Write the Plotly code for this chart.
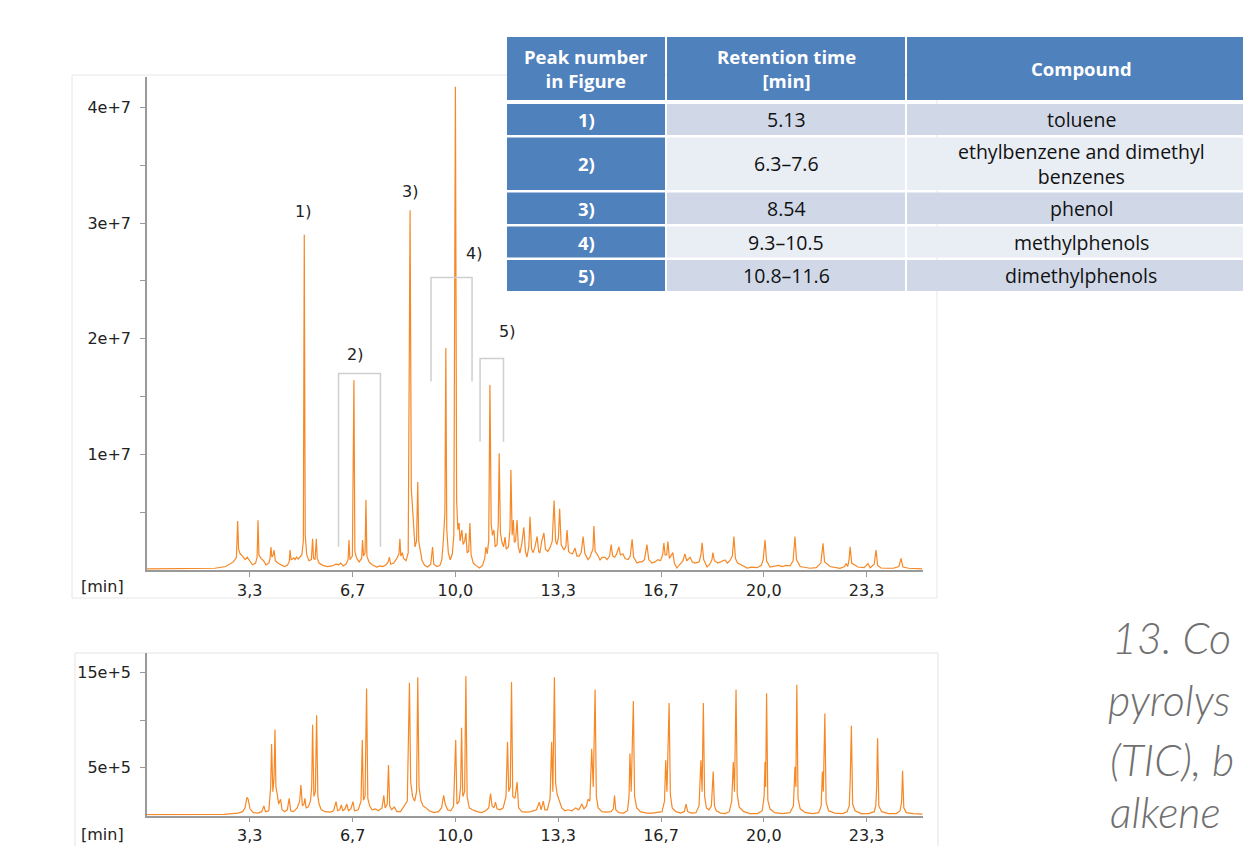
import plotly.graph_objects as go

# ---------------- DATA ----------------
# Upper chromatogram (TIC): retention time [min] and intensity [millions of counts]
tic_time = [0.00, 1.50, 2.20, 2.55, 2.80, 2.90, 2.94, 2.97, 3.02, 3.10, 3.18, 3.25, 3.32, 3.42, 3.52,
            3.57, 3.60, 3.63, 3.70, 3.78, 3.86, 3.95, 3.99, 4.02, 4.05, 4.09, 4.12, 4.16, 4.24, 4.35,
            4.45, 4.55, 4.61, 4.64, 4.67, 4.72, 4.76, 4.80, 4.85, 4.90, 4.96, 5.02, 5.07, 5.10, 5.13,
            5.18, 5.25, 5.33, 5.37, 5.40, 5.45, 5.49, 5.52, 5.58, 5.70, 5.85, 6.00, 6.13, 6.22, 6.28,
            6.36, 6.45, 6.52, 6.55, 6.58, 6.66, 6.71, 6.74, 6.80, 6.88, 6.96, 6.99, 7.02, 7.07, 7.10,
            7.13, 7.20, 7.30, 7.45, 7.55, 7.65, 7.75, 7.82, 7.86, 7.90, 8.00, 8.10, 8.17, 8.20, 8.23,
            8.28, 8.32, 8.40, 8.47, 8.53, 8.57, 8.60, 8.64, 8.69, 8.74, 8.78, 8.81, 8.86, 8.92, 9.00,
            9.10, 9.20, 9.26, 9.30, 9.40, 9.50, 9.56, 9.61, 9.66, 9.69, 9.72, 9.77, 9.83, 9.90, 9.95,
            10.00, 10.04, 10.08, 10.12, 10.15, 10.21, 10.25, 10.30, 10.34, 10.38, 10.43, 10.47, 10.51,
            10.58, 10.66, 10.78, 10.88, 10.95, 10.99, 11.03, 11.08, 11.12, 11.16, 11.20, 11.25, 11.29,
            11.35, 11.39, 11.42, 11.46, 11.51, 11.56, 11.61, 11.65, 11.72, 11.77, 11.80, 11.84, 11.88,
            11.91, 11.95, 12.00, 12.04, 12.09, 12.15, 12.22, 12.27, 12.32, 12.38, 12.42, 12.47, 12.52,
            12.58, 12.65, 12.70, 12.74, 12.80, 12.87, 12.92, 13.00, 13.08, 13.14, 13.20, 13.25, 13.29,
            13.34, 13.38, 13.43, 13.52, 13.58, 13.62, 13.67, 13.72, 13.80, 13.88, 13.94, 14.01, 14.08,
            14.14, 14.20, 14.30, 14.36, 14.40, 14.46, 14.49, 14.53, 14.59, 14.65, 14.69, 14.76, 14.85,
            14.92, 15.00, 15.05, 15.10, 15.17, 15.23, 15.30, 15.35, 15.43, 15.50, 15.60, 15.67, 15.73,
            15.78, 15.89, 15.97, 16.05, 16.13, 16.21, 16.27, 16.37, 16.47, 16.57, 16.65, 16.72, 16.76,
            16.80, 16.85, 16.89, 16.94, 17.05, 17.10, 17.18, 17.30, 17.38, 17.44, 17.50, 17.61, 17.68,
            17.77, 17.90, 17.96, 18.00, 18.05, 18.16, 18.25, 18.32, 18.35, 18.40, 18.51, 18.62, 18.74,
            18.82, 18.90, 18.98, 19.03, 19.08, 19.15, 19.23, 19.35, 19.46, 19.60, 19.78, 19.92, 19.98,
            20.04, 20.09, 20.20, 20.35, 20.47, 20.60, 20.72, 20.85, 20.95, 21.01, 21.06, 21.18, 21.35,
            21.50, 21.70, 21.85, 21.92, 21.97, 22.15, 22.30, 22.47, 22.62, 22.67, 22.72, 22.76, 22.80,
            22.85, 23.05, 23.25, 23.38, 23.45, 23.58, 23.64, 23.69, 23.80, 24.00, 24.20, 24.38, 24.45,
            24.51, 24.70, 25.13]
tic_mcounts = [0.10, 0.10, 0.15, 0.30, 0.70, 1.10, 4.24, 1.80, 1.40, 1.20, 0.90, 1.10, 0.80, 0.45, 0.60,
               1.10, 4.30, 1.30, 1.00, 0.80, 0.45, 0.60, 1.00, 1.99, 1.10, 1.30, 1.73, 0.80, 0.60, 0.45,
               0.30, 0.40, 0.70, 1.73, 0.90, 0.95, 1.05, 0.90, 1.12, 0.95, 1.10, 1.30, 2.50, 29.0, 3.00,
               1.30, 0.80, 0.90, 2.70, 1.00, 0.90, 2.70, 1.00, 0.60, 0.40, 0.30, 0.35, 0.50, 0.45, 0.60,
               0.35, 0.50, 0.90, 2.60, 0.90, 1.20, 16.4, 1.60, 1.00, 0.70, 1.00, 2.60, 1.20, 1.50, 6.06,
               1.20, 0.70, 0.45, 0.25, 0.35, 0.30, 0.45, 0.70, 1.12, 0.50, 0.60, 1.00, 1.40, 2.70, 1.20,
               1.50, 1.00, 0.80, 1.50, 31.1, 7.00, 5.80, 3.50, 2.00, 2.50, 7.60, 2.50, 1.60, 0.80, 0.40,
               0.26, 0.50, 1.99, 0.50, 0.30, 0.40, 0.90, 2.60, 5.00, 19.2, 3.50, 1.50, 0.87, 1.40, 3.00,
               41.8, 6.00, 3.50, 4.07, 2.50, 3.46, 2.20, 2.50, 3.20, 1.50, 1.60, 4.07, 1.30,
               0.60, 0.40, 0.17, 0.40, 1.00, 1.99, 1.40, 2.50, 16.0, 4.00, 3.00, 3.46, 2.00,
               2.20, 4.00, 10.1, 3.20, 2.40, 2.00, 2.85, 1.80, 2.00, 3.50, 8.65, 3.00, 4.33,
               2.40, 2.50, 4.33, 2.00, 1.47, 2.20, 3.70, 1.60, 1.12, 2.00, 4.60, 1.80, 1.50,
               2.00, 2.90, 1.60, 1.47, 2.50, 3.20, 1.80, 1.60, 2.00, 2.50, 6.00, 2.50, 2.20,
               2.80, 5.30, 2.20, 1.73, 2.00, 3.46, 1.60, 1.47, 1.40, 1.90, 1.20, 1.20, 1.50,
               2.90, 1.40, 0.90, 1.10, 1.40, 1.80, 3.80, 1.60, 1.40, 1.00, 0.87, 1.10, 1.10,
               0.90, 1.20, 2.20, 1.20, 1.10, 1.40, 2.00, 1.30, 1.40, 1.00, 0.90, 1.20, 2.65,
               1.10, 0.60, 0.70, 0.70, 0.90, 2.20, 0.90, 0.60, 0.70, 0.90, 0.80, 1.30, 2.34,
               1.30, 1.30, 2.45, 1.00, 1.50, 0.60, 0.17, 0.50, 0.80, 1.40, 0.80, 1.10, 0.70,
               0.60, 0.70, 1.30, 2.36, 0.90, 0.26, 0.50, 0.90, 1.50, 0.80, 0.60, 0.70, 0.87,
               0.60, 0.80, 1.20, 2.90, 1.00, 0.60, 0.50, 0.30, 0.17, 0.25, 0.20, 0.40, 0.90,
               2.60, 0.80, 0.26, 0.35, 0.40, 0.30, 0.40, 0.35, 0.80, 2.90, 0.90, 0.30, 0.20,
               0.15, 0.20, 0.60, 2.30, 0.70, 0.30, 0.20, 0.15, 0.30, 0.55, 0.30, 0.80, 2.00,
               0.60, 0.26, 0.20, 0.55, 0.20, 0.50, 1.73, 0.40, 0.17, 0.15, 0.15, 0.30, 1.00,
               0.25, 0.15, 0.10]

# Lower chromatogram: retention time [min] and intensity [units of 1e5 counts]
ion_time = [0.00, 1.50, 2.50, 2.95, 3.10, 3.18, 3.24, 3.28, 3.34, 3.45, 3.60, 3.72, 3.79, 3.84, 3.95,
            4.01, 4.04, 4.08, 4.12, 4.15, 4.18, 4.22, 4.27, 4.33, 4.38, 4.46, 4.55, 4.61, 4.66, 4.75,
            4.87, 4.95, 4.99, 5.04, 5.09, 5.12, 5.16, 5.23, 5.30, 5.34, 5.37, 5.41, 5.46, 5.50, 5.54,
            5.58, 5.65, 5.78, 5.95, 6.05, 6.13, 6.18, 6.25, 6.30, 6.35, 6.42, 6.48, 6.53, 6.61, 6.68,
            6.73, 6.85, 6.94, 6.98, 7.02, 7.07, 7.12, 7.16, 7.22, 7.30, 7.40, 7.50, 7.62, 7.68, 7.72,
            7.79, 7.83, 7.87, 7.93, 8.02, 8.10, 8.22, 8.35, 8.44, 8.51, 8.55, 8.61, 8.68, 8.74, 8.78,
            8.82, 8.88, 8.95, 9.05, 9.15, 9.30, 9.45, 9.55, 9.62, 9.67, 9.75, 9.85, 9.94, 10.01, 10.05,
            10.12, 10.17, 10.20, 10.24, 10.30, 10.34, 10.38, 10.45, 10.55, 10.70, 10.85, 10.98, 11.08,
            11.14, 11.19, 11.25, 11.30, 11.35, 11.45, 11.55, 11.64, 11.69, 11.73, 11.78, 11.82, 11.86,
            11.93, 12.00, 12.05, 12.15, 12.30, 12.45, 12.55, 12.63, 12.72, 12.78, 12.85, 12.90, 12.98,
            13.07, 13.12, 13.16, 13.21, 13.25, 13.30, 13.36, 13.45, 13.55, 13.65, 13.78, 13.90, 14.00,
            14.10, 14.17, 14.25, 14.30, 14.36, 14.42, 14.47, 14.53, 14.57, 14.63, 14.75, 14.90, 15.05,
            15.12, 15.16, 15.20, 15.30, 15.45, 15.58, 15.63, 15.66, 15.70, 15.77, 15.81, 15.88, 16.00,
            16.20, 16.40, 16.55, 16.70, 16.78, 16.82, 16.86, 16.93, 16.97, 17.03, 17.15, 17.30, 17.42,
            17.48, 17.53, 17.65, 17.80, 17.90, 17.96, 18.00, 18.04, 18.08, 18.14, 18.22, 18.30, 18.36,
            18.40, 18.46, 18.60, 18.75, 18.88, 18.96, 19.01, 19.05, 19.10, 19.14, 19.20, 19.35, 19.55,
            19.80, 19.95, 20.01, 20.04, 20.06, 20.09, 20.13, 20.20, 20.35, 20.60, 20.85, 20.96, 21.01,
            21.04, 21.07, 21.11, 21.18, 21.35, 21.60, 21.78, 21.86, 21.90, 21.93, 21.98, 22.02, 22.10,
            22.30, 22.55, 22.70, 22.77, 22.80, 22.84, 22.88, 22.96, 23.15, 23.40, 23.58, 23.63, 23.66,
            23.69, 23.73, 23.82, 24.05, 24.30, 24.42, 24.47, 24.50, 24.54, 24.62, 24.85, 25.15]
ion_counts_1e5 = [0.10, 0.10, 0.12, 0.25, 0.40, 0.80, 1.90, 1.70, 0.70, 0.30, 0.25, 0.40, 1.00, 0.40, 0.50,
                  3.00, 7.50, 2.50, 4.00, 9.00, 3.00, 2.30, 1.20, 1.70, 0.60, 0.40, 0.60, 1.80, 0.50, 0.40,
                  0.80, 1.50, 3.20, 1.00, 1.20, 1.80, 0.80, 0.90, 1.50, 3.00, 9.50, 2.00, 2.50, 10.5, 2.00,
                  1.20, 0.60, 0.40, 0.35, 0.50, 1.45, 0.50, 0.60, 1.10, 0.50, 0.70, 1.20, 0.50, 0.70, 1.45,
                  0.50, 0.60, 1.50, 7.90, 1.60, 2.00, 13.3, 1.80, 1.00, 0.60, 0.70, 0.50, 0.80, 2.10, 0.80,
                  1.20, 5.30, 1.00, 0.60, 0.90, 0.40, 0.40, 1.00, 1.50, 13.9, 3.50, 2.00, 1.50, 2.50, 14.5,
                  3.00, 1.60, 1.00, 0.80, 0.50, 0.30, 0.40, 0.80, 2.10, 1.20, 0.60, 0.50, 1.00, 7.90, 1.20,
                  1.50, 3.00, 9.20, 2.00, 2.50, 14.6, 2.00, 0.80, 0.60, 0.40, 0.30, 0.50, 0.80,
                  2.30, 1.00, 0.80, 1.40, 0.70, 0.60, 0.80, 2.00, 7.70, 2.50, 3.00, 14.0, 2.00,
                  1.80, 3.50, 0.80, 0.40, 0.35, 0.40, 0.50, 0.60, 1.40, 0.60, 1.50, 0.60, 0.60,
                  1.80, 7.70, 2.50, 14.5, 3.40, 2.20, 1.70, 0.80, 0.50, 0.60, 0.50, 0.80, 0.60,
                  1.20, 0.70, 1.00, 1.70, 1.50, 7.00, 3.00, 13.2, 2.00, 0.80, 0.40, 0.35, 0.40,
                  0.70, 2.10, 0.60, 0.30, 0.25, 0.50, 2.00, 6.50, 2.50, 12.0, 2.00, 0.80, 0.40,
                  0.25, 0.25, 0.30, 0.40, 1.50, 5.80, 2.50, 11.8, 2.20, 0.80, 0.40, 0.25, 0.40,
                  1.20, 0.40, 0.25, 0.30, 1.00, 5.80, 2.50, 11.8, 2.00, 0.80, 0.60, 1.00, 4.60,
                  1.00, 0.50, 0.25, 0.20, 0.40, 1.50, 5.60, 2.50, 13.2, 2.20, 0.90, 0.40, 0.20,
                  0.20, 0.50, 2.00, 5.60, 3.00, 12.8, 1.60, 0.70, 0.30, 0.20, 0.30, 1.00, 5.10,
                  3.00, 13.7, 1.80, 0.70, 0.30, 0.20, 0.30, 1.00, 4.60, 2.50, 10.7, 1.40, 0.50,
                  0.25, 0.20, 0.40, 1.00, 3.40, 9.40, 1.20, 0.50, 0.20, 0.20, 0.40, 1.00, 3.00,
                  8.10, 1.00, 0.40, 0.20, 0.20, 0.50, 1.50, 4.70, 0.80, 0.30, 0.20, 0.15]

x_tick_vals = [10 / 3, 20 / 3, 10, 40 / 3, 50 / 3, 20, 70 / 3]
x_tick_text = ["3,3", "6,7", "10,0", "13,3", "16,7", "20,0", "23,3"]
tic_tick_vals = [1e7, 2e7, 3e7, 4e7]
tic_tick_text = ["1e+7", "2e+7", "3e+7", "4e+7"]
ion_tick_vals = [5e5, 1.5e6]
ion_tick_text = ["5e+5", "15e+5"]

# Table
table_header = ["Peak number<br>in Figure", "Retention time<br>[min]", "Compound"]
peak_numbers = ["1)", "2)", "3)", "4)", "5)"]
retention_times = ["5.13", "6.3–7.6", "8.54", "9.3–10.5", "10.8–11.6"]
compounds = ["toluene", "ethylbenzene and dimethyl<br>benzenes", "phenol", "methylphenols", "dimethylphenols"]

# Peak-group brackets (start / end retention time, top / bottom intensity)
bracket_start = [6.21, 9.21, 10.80]
bracket_end = [7.57, 10.54, 11.56]
bracket_top = [17.0e6, 25.3e6, 18.3e6]
bracket_bottom = [2.0e6, 16.3e6, 11.1e6]

caption_lines = ["13. Co", "pyrolys", "(TIC), b", "alkene"]

# ---------------- LAYOUT HELPERS ----------------
W, H = 1243, 846


def px(x):
    return x / W


def py(y):
    return 1 - y / H


X0 = 147            # pixel of t = 0
PX_PER_MIN = 30.84
T_MAX = 25.15
x_dom = [px(X0), px(X0 + T_MAX * PX_PER_MIN)]

LINE_COLOR = "rgb(246,136,38)"
AXIS_COLOR = "#9a9a9a"
TICK_FONT = dict(family="DejaVu Sans", size=16, color="#222222")

fig = go.Figure()
fig.add_trace(go.Scatter(x=tic_time, y=[v * 1e6 for v in tic_mcounts], mode="lines",
                         line=dict(color=LINE_COLOR, width=1.2), xaxis="x", yaxis="y",
                         hoverinfo="skip", showlegend=False))
fig.add_trace(go.Scatter(x=ion_time, y=[v * 1e5 for v in ion_counts_1e5], mode="lines",
                         line=dict(color=LINE_COLOR, width=1.2), xaxis="x2", yaxis="y2",
                         hoverinfo="skip", showlegend=False))

common = dict(showline=True, linecolor=AXIS_COLOR, linewidth=1.5, ticks="outside", ticklen=5,
              tickwidth=1, tickcolor=AXIS_COLOR, showgrid=False, zeroline=False,
              tickfont=TICK_FONT, fixedrange=True)

fig.update_layout(
    width=W, height=H, autosize=False,
    margin=dict(l=0, r=0, t=0, b=0),
    paper_bgcolor="white", plot_bgcolor="white",
    showlegend=False,
    xaxis=dict(domain=x_dom, range=[0, T_MAX], anchor="y", tickmode="array",
               tickvals=x_tick_vals, ticktext=x_tick_text, **common),
    yaxis=dict(domain=[py(570), py(76.7)], range=[0, 4.266e7], anchor="x", tickmode="array",
               tickvals=tic_tick_vals, ticktext=tic_tick_text, ticklabelstandoff=6,
               minor=dict(tickvals=[5e6, 1.5e7, 2.5e7, 3.5e7], ticks="outside", ticklen=5,
                          tickcolor=AXIS_COLOR), **common),
    xaxis2=dict(domain=x_dom, range=[0, T_MAX], anchor="y2", tickmode="array",
                tickvals=x_tick_vals, ticktext=x_tick_text, **common),
    yaxis2=dict(domain=[py(815.5), py(653.3)], range=[0, 1.70e6], anchor="x2", tickmode="array",
                tickvals=ion_tick_vals, ticktext=ion_tick_text, ticklabelstandoff=6,
                minor=dict(tickvals=[1e6], ticks="outside", ticklen=5, tickcolor=AXIS_COLOR), **common),
)

shapes = []
annotations = []

# chart frames
shapes.append(dict(type="rect", xref="paper", yref="paper", x0=px(72), x1=px(937), y0=py(598), y1=py(75),
                   line=dict(color="#e6e6e6", width=1), layer="below"))
shapes.append(dict(type="rect", xref="paper", yref="paper", x0=px(75), x1=px(938), y0=py(850), y1=py(653),
                   line=dict(color="#e3e3e3", width=1), layer="below"))

# "[min]" labels
for yc in (586, 834):
    annotations.append(dict(text="[min]", xref="paper", yref="paper", x=px(79), y=py(yc),
                            xanchor="left", yanchor="middle", showarrow=False, font=TICK_FONT))

# brackets
for s, e, t, b in zip(bracket_start, bracket_end, bracket_top, bracket_bottom):
    shapes.append(dict(type="path", xref="x", yref="y",
                       path=f"M {s},{b} L {s},{t} L {e},{t} L {e},{b}",
                       line=dict(color="#cfcfcf", width=1.5)))

# peak labels (data coordinates)
peak_label_pos = {"1)": (5.06, 31.0e6), "2)": (6.74, 18.6e6), "3)": (8.53, 32.7e6),
                  "4)": (10.60, 27.4e6), "5)": (11.67, 20.6e6)}
for lab in peak_numbers:
    xx, yy = peak_label_pos[lab]
    annotations.append(dict(text=lab, xref="x", yref="y", x=xx, y=yy, showarrow=False,
                            xanchor="center", yanchor="middle", font=TICK_FONT))

# ---------------- TABLE (drawn with shapes + text) ----------------
BLUE = "#4F81BD"
ROW_FILLS = ["#D0D8E8", "#E9EDF4"]
col_edges = [(507, 665), (667, 905), (907, 1255)]
header_rows = (37, 100)
row_edges = [(104, 135), (137.5, 190), (192.5, 224), (226.5, 257.5), (260, 291)]
HEAD_FONT = dict(family="Open Sans", size=18.5, color="white", weight="bold")
CELL_FONT = dict(family="Open Sans", size=19.5, color="#111111")
FIRST_FONT = dict(family="Open Sans", size=18.5, color="white", weight="bold")


def col_center(ci, c0, c1):
    return (c0 + min(c1, W + 90)) / 2 if ci == 2 else (c0 + c1) / 2


for ci, ((c0, c1), txt) in enumerate(zip(col_edges, table_header)):
    shapes.append(dict(type="rect", xref="paper", yref="paper", x0=px(c0), x1=px(c1),
                       y0=py(header_rows[1]), y1=py(header_rows[0]), fillcolor=BLUE,
                       line=dict(width=0), layer="above"))
    annotations.append(dict(text=txt, xref="paper", yref="paper", x=px(col_center(ci, c0, c1)),
                            y=py((header_rows[0] + header_rows[1]) / 2), showarrow=False,
                            xanchor="center", yanchor="middle", font=HEAD_FONT, align="center"))

columns = [peak_numbers, retention_times, compounds]
for ci, ((c0, c1), vals) in enumerate(zip(col_edges, columns)):
    for ri, ((r0, r1), txt) in enumerate(zip(row_edges, vals)):
        fill = BLUE if ci == 0 else ROW_FILLS[ri % 2]
        shapes.append(dict(type="rect", xref="paper", yref="paper", x0=px(c0), x1=px(c1),
                           y0=py(r1), y1=py(r0), fillcolor=fill, line=dict(width=0), layer="above"))
        annotations.append(dict(text=txt, xref="paper", yref="paper",
                                x=px(col_center(ci, c0, c1)),
                                y=py((r0 + r1) / 2), showarrow=False, xanchor="center",
                                yanchor="middle", align="center",
                                font=FIRST_FONT if ci == 0 else CELL_FONT))

# ---------------- CAPTION (cut off at the right edge) ----------------
CAP_FONT = dict(family="Lato", size=43, color="#707070", style="italic", weight=300)
caption_pos = [(1110, 637), (1106, 699), (1108, 759), (1108, 811)]
for txt, (xl, yc) in zip(caption_lines, caption_pos):
    annotations.append(dict(text=txt, xref="paper", yref="paper", x=px(xl), y=py(yc),
                            xanchor="left", yanchor="middle", showarrow=False, font=CAP_FONT))

fig.update_layout(shapes=shapes, annotations=annotations)
fig.write_html("out.html")
